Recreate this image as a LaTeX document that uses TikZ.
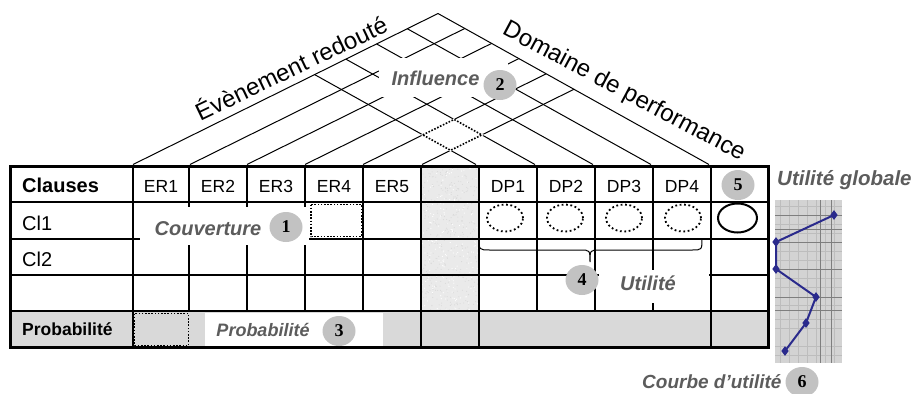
\documentclass[tikz,border=0pt]{standalone}
\usepackage{fontspec}
\setmainfont{Liberation Sans}
\newfontfamily\numfont{Liberation Serif}
\usetikzlibrary{shapes.geometric,plotmarks}
\definecolor{numgray}{HTML}{C2C2C2}
\definecolor{labgray}{HTML}{5C5C5C}
\definecolor{probgray}{HTML}{D9D9D9}
\definecolor{colgray}{HTML}{EAEAEA}
\definecolor{chartbg}{HTML}{D3D3D3}
\definecolor{gridlight}{HTML}{BDBDBD}
\definecolor{griddark}{HTML}{7E7E7E}
\definecolor{curveblue}{HTML}{2A2A8C}
\newcommand\fsz[1]{\fontsize{#1}{#1}\selectfont}
\begin{document}
\begin{tikzpicture}[x=1pt,y=-1pt,
  tabline/.style={line width=1.3pt},
  outerline/.style={line width=3pt},
  roofline/.style={line width=1pt},
  whitebox/.style={fill=white,draw=none},
  dotbox/.style={line width=1.6pt,dash pattern=on 1.6pt off 1.6pt},
  dotell/.style={line width=1.8pt,dash pattern=on 1.8pt off 2.6pt},
  numc/.style={ellipse,fill=numgray,inner sep=0pt,minimum width=33pt,minimum height=30pt,font=\numfont\bfseries\fsz{18}},
  lab/.style={font=\bfseries\itshape\fsz{20},text=labgray,inner sep=0pt},
  hdr/.style={font=\fsz{17.5},inner sep=0pt,anchor=base},
  rowl/.style={font=\fsz{20},inner sep=0pt,anchor=base west},
  title/.style={font=\fsz{24},inner sep=0pt,anchor=base}]
\useasboundingbox (0,0) rectangle (914,394);

% fills
\fill[probgray] (10,311) rectangle (768,347);
\fill[colgray] (421,166) rectangle (479,311);
\pgfmathsetseed{7}
\foreach \i in {1,...,350}{
  \pgfmathsetmacro\px{422+56*rnd}
  \pgfmathsetmacro\py{167+143*rnd}
  \fill[gray!30] (\px,\py) circle[radius=0.55pt];
}
\foreach \i in {1,...,200}{
  \pgfmathsetmacro\px{422+56*rnd}
  \pgfmathsetmacro\py{167+143*rnd}
  \fill[white] (\px,\py) circle[radius=0.6pt];
}

% inner grid
\foreach \y in {202,239,275,311}{\draw[tabline] (10,\y) -- (768,\y);}
\foreach \x in {133,421,479,711}{\draw[tabline] (\x,166) -- (\x,347);}
\foreach \x in {189,247,305,363,537,595,653}{\draw[tabline] (\x,166) -- (\x,311);}

% roof
\foreach \a in {133,190,247,305,363,422}{
  \pgfmathsetmacro\t{(709-\a)/3.815}
  \draw[roofline] (\a,164.5) -- ({\a+2.02*\t},{164.5-\t});
}
\foreach \b in {476,535,593,651,709}{
  \pgfmathsetmacro\t{(\b-133)/3.815}
  \draw[roofline] (\b,164.5) -- ({\b-1.795*\t},{164.5-\t});
}
% dotted cell in roof
\draw[white,line width=2pt] (422.8,134.9) -- (454.1,119.4) -- (481.8,134.9) -- (450.6,150.3) -- cycle;
\draw[dotbox] (422.8,134.9) -- (454.1,119.4) -- (481.8,134.9) -- (450.6,150.3) -- cycle;

% white label boxes
\fill[whitebox] (379,58) rectangle (508,97);
\fill[whitebox] (140,207) rectangle (309,245);
\fill[whitebox] (205,313) rectangle (383,346);
\fill[whitebox] (599,270) rectangle (709,303);

% dotted boxes
\draw[dotbox,fill=white] (311,204.5) rectangle (361.5,236.5);
\draw[dotbox] (134.5,313.5) rectangle (188.5,345.5);

% ellipses
\foreach \cx in {505,565,624,683}{
  \draw[dotell] (\cx,218) ellipse [x radius=18pt, y radius=13.5pt];
}
\draw[line width=2pt] (737.5,218) ellipse [x radius=19.5pt, y radius=14.5pt];

% brace
\draw[line width=1pt] (479,238) .. controls (479,250) .. (490,250) -- (580,250)
  .. controls (590,250) .. (590,262) .. controls (590,250) .. (600,250) -- (692,250)
  .. controls (702,250) .. (702,238);

% outer border
\draw[outerline] (10,166) rectangle (768,347);

% header and row texts
\node[font=\bfseries\fsz{20},inner sep=0pt,anchor=base west] (clauses) at (22,192.5) {Clauses};
\node[hdr] (er1) at (161,192) {ER1};
\node[hdr] (er2) at (218,192) {ER2};
\node[hdr] (er3) at (276,192) {ER3};
\node[hdr] (er4) at (334,192) {ER4};
\node[hdr] (er5) at (392,192) {ER5};
\node[hdr] (dp1) at (508,192) {DP1};
\node[hdr] (dp2) at (566,192) {DP2};
\node[hdr] (dp3) at (624,192) {DP3};
\node[hdr] (dp4) at (682,192) {DP4};
\node[rowl] (cl1) at (22,230) {Cl1};
\node[rowl] (cl2) at (22,266) {Cl2};
\node[font=\bfseries\fsz{17.5},inner sep=0pt,anchor=base west] (prob) at (22,335.5) {Probabilité};

% roof titles
\node[title,rotate=25.5] (evt) at (295,76) {Évènement redouté};
\node[title,rotate=-28] (dom) at (621,97.5) {Domaine de performance};

% labels
\node[lab,anchor=base] (couv) at (208,235) {Couverture};
\node[numc] (n1) at (286,227) {1};
\node[lab,anchor=base] (infl) at (435.5,85) {Influence};
\node[numc] (n2) at (500,85) {2};
\node[lab,anchor=base,font=\bfseries\itshape\fsz{18}] (probl) at (263,336) {Probabilité};
\node[numc] (n3) at (339,331) {3};
\node[numc] (n4) at (582,280) {4};
\node[lab,anchor=base] (util) at (648,290.5) {Utilité};
\node[numc] (n5) at (738,185) {5};
\node[lab,anchor=base west,font=\bfseries\itshape\fsz{20.5}] (ug) at (777,185) {Utilité globale};
\node[lab,anchor=base west,font=\bfseries\itshape\fsz{19}] (cu) at (642,388) {Courbe d’utilité};
\node[numc] (n6) at (802,382) {6};

% utility chart
\fill[chartbg] (775,200) rectangle (842,363);
\foreach \x in {780,789,...,840}{\draw[gridlight,line width=0.8pt] (\x,200) -- (\x,363);}
\foreach \y in {206,224,233,251,260,278,287,305,319,328,346,355}{\draw[gridlight,line width=0.8pt] (775,\y) -- (842,\y);}
\foreach \y in {215,229,242,269,297,310}{\draw[griddark,line width=0.9pt] (775,\y) -- (842,\y);}
\foreach \x in {820,831}{\draw[griddark,line width=1pt] (\x,200) -- (\x,363);}
\draw[curveblue,line width=2pt,mark=diamond*,mark size=3.2pt,mark options={fill=curveblue}]
  plot coordinates {(834,215) (776,242) (776,269) (816,297) (806,323) (785,351)};
\end{tikzpicture}
\end{document}
